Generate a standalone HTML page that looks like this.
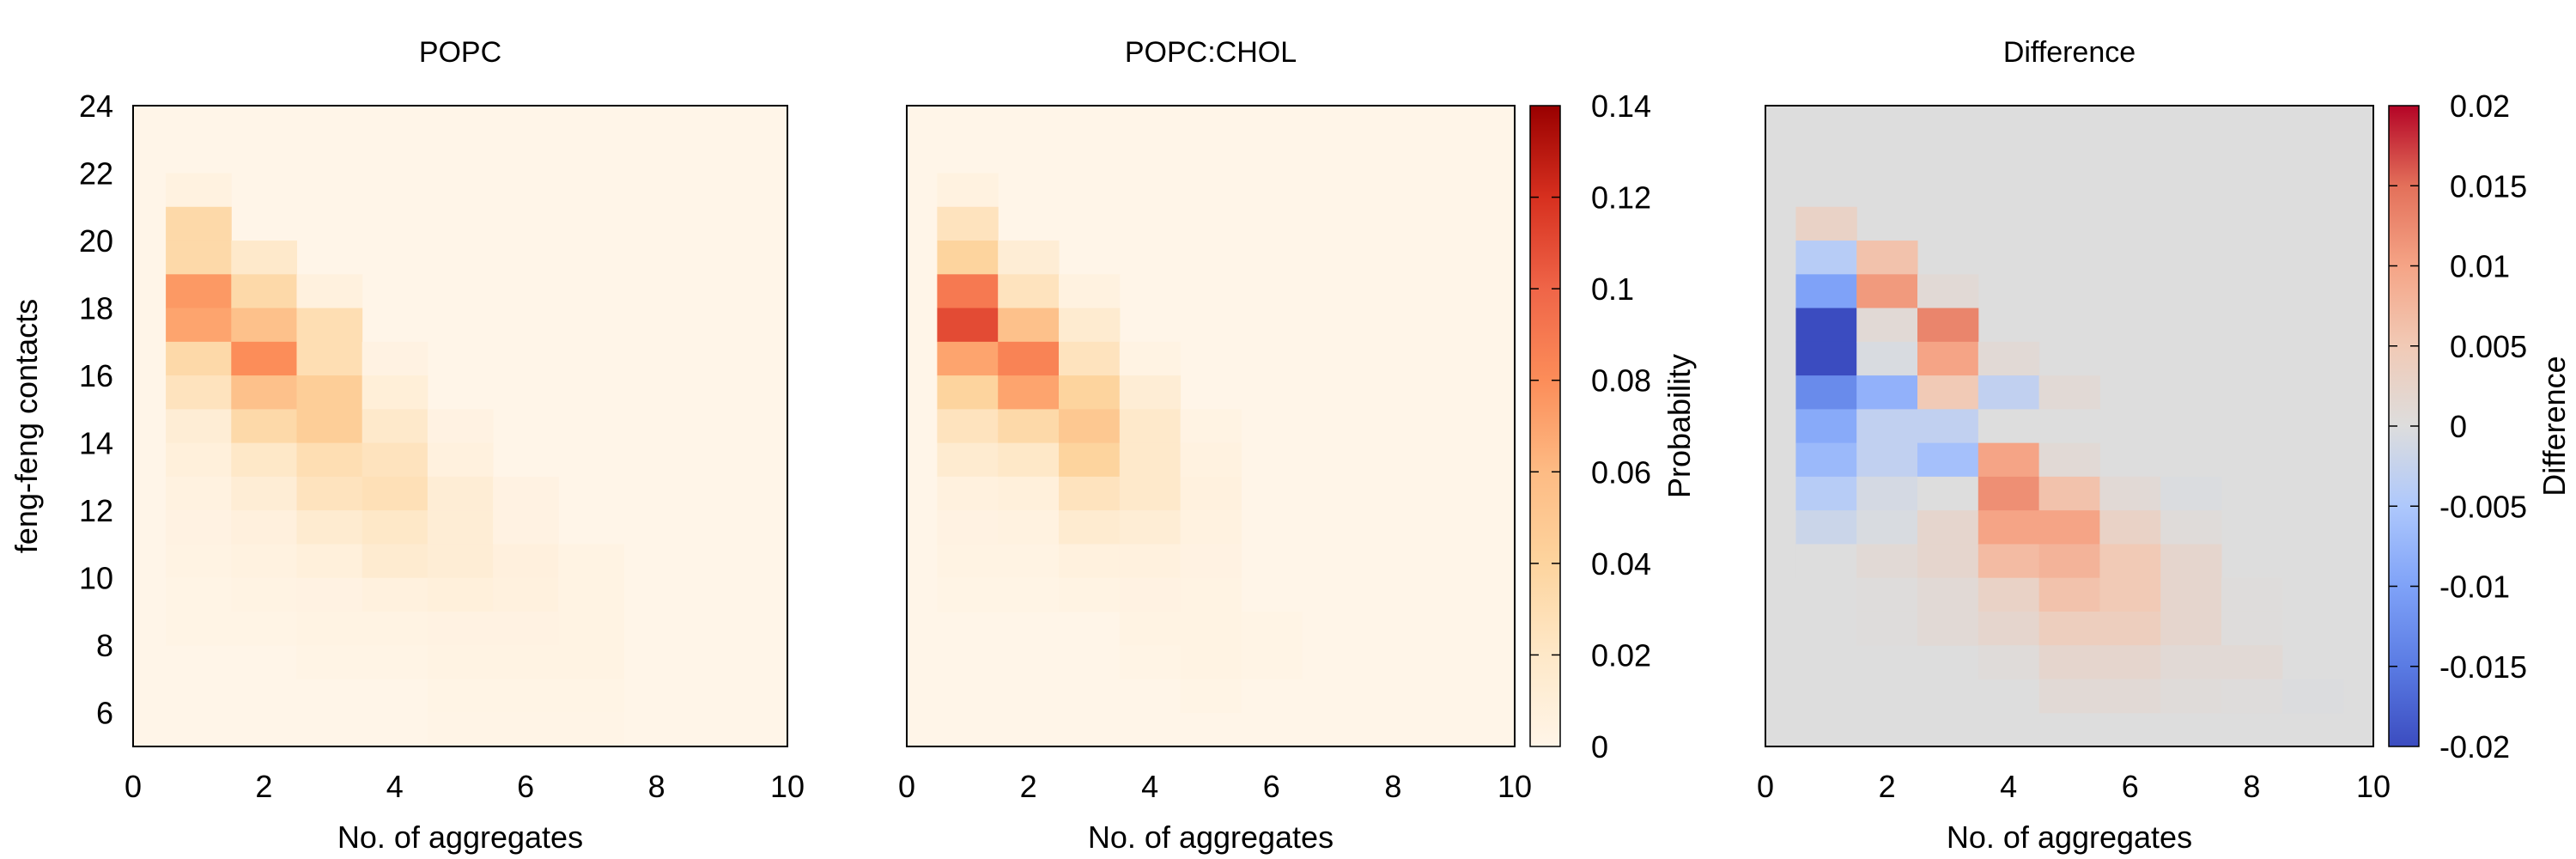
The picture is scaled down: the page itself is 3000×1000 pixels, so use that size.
<!DOCTYPE html>
<html><head><meta charset="utf-8"><style>
html,body{margin:0;padding:0;background:#fff}
svg{display:block;font-family:"Liberation Sans",sans-serif}
</style></head><body>
<svg id="chart" width="3000" height="1000" viewBox="0 0 3000 1000" xmlns="http://www.w3.org/2000/svg">
<defs>
<linearGradient id="gProb" x1="0" y1="1" x2="0" y2="0"></linearGradient>
<linearGradient id="gDiff" x1="0" y1="1" x2="0" y2="0"></linearGradient>
</defs>
</svg>
<script>
// ---- data ----
const xTicks = [0,2,4,6,8,10];
const yTicks = [6,8,10,12,14,16,18,20,22,24];
const probTicks = [0,0.02,0.04,0.06,0.08,0.1,0.12,0.14];
const diffTicks = [-0.02,-0.015,-0.01,-0.005,0,0.005,0.01,0.015,0.02];
// columns: x position, lower edge of top cell, values from top cell downward
const popcX = [1,2,3,4,5,6,7];
const popcTop = [21,19,18,16,14,12,10];
const popcVals = [
 [0.005,0.035,0.035,0.075,0.07,0.035,0.025,0.012,0.008,0.005,0.004,0.003,0.002,0.002],
 [0.018,0.035,0.055,0.08,0.055,0.035,0.02,0.012,0.007,0.005,0.003,0.002],
 [0.006,0.03,0.03,0.045,0.045,0.03,0.025,0.015,0.008,0.004,0.003,0.002],
 [0.004,0.01,0.018,0.025,0.028,0.02,0.015,0.006,0.003,0.002],
 [0.004,0.006,0.012,0.012,0.012,0.008,0.004,0.003,0.002,0.001],
 [0.004,0.004,0.007,0.006,0.004,0.003,0.002,0.001],
 [0.003,0.003,0.003,0.003,0.002,0.001]
];
const cholX = [1,2,3,4,5,6];
const cholTop = [21,19,18,16,14,8];
const cholVals = [
 [0.005,0.025,0.04,0.09,0.11,0.07,0.04,0.025,0.015,0.006,0.004,0.003,0.002],
 [0.012,0.025,0.055,0.085,0.07,0.035,0.02,0.008,0.005,0.003,0.002],
 [0.005,0.015,0.025,0.04,0.05,0.04,0.025,0.015,0.006,0.003],
 [0.003,0.012,0.018,0.018,0.018,0.012,0.006,0.004,0.003,0.002],
 [0.003,0.005,0.006,0.005,0.004,0.003,0.003,0.003,0.002],
 [0.002,0.002]
];
const diffX = [1,2,3,4,5,6,7,8,9];
const diffTop = [20,19,18,16,15,12,12,9,6];
const diffVals = [
 [0.003,-0.004,-0.01,-0.02,-0.02,-0.013,-0.009,-0.007,-0.004,-0.002,0],
 [0.006,0.011,0.001,-0.0005,-0.008,-0.003,-0.003,-0.001,-0.0005,0.001,0.0003,0.0003],
 [0.001,0.013,0.01,0.005,-0.003,-0.006,0,0.002,0.002,0.001,0.001],
 [0.001,-0.003,0,0.01,0.012,0.01,0.007,0.003,0.002,0.0005],
 [0.001,0,0.001,0.006,0.01,0.008,0.006,0.004,0.002,0.001],
 [0.001,0.003,0.005,0.005,0.004,0.002,0.001],
 [-0.0003,0.0005,0.002,0.002,0.002,0.001,0.0005],
 [0.0003,0.0003,0.001,0.0003],
 [-0.0002]
];
// ---- colormaps ----
const probStops = [[0,'#fff5e8'],[0.02,'#fee8c8'],[0.04,'#fdd49e'],[0.06,'#fdbb84'],[0.08,'#fc8d59'],[0.1,'#ef6548'],[0.12,'#d7301f'],[0.14,'#990000']];
const diffStops = [[-0.02,'#3b4cc0'],[-0.015,'#5a7be3'],[-0.01,'#7fa2f8'],[-0.005,'#aec8fc'],[0,'#dddddd'],[0.005,'#f1cab6'],[0.01,'#f5a486'],[0.015,'#e3705a'],[0.02,'#b40426']];
function hex(c){return [parseInt(c.slice(1,3),16),parseInt(c.slice(3,5),16),parseInt(c.slice(5,7),16)];}
function cmap(stops,v){
  if(v<=stops[0][0]) return stops[0][1];
  for(let i=1;i<stops.length;i++){
    if(v<=stops[i][0]){
      const t=(v-stops[i-1][0])/(stops[i][0]-stops[i-1][0]);
      const a=hex(stops[i-1][1]),b=hex(stops[i][1]);
      return 'rgb('+a.map((x,k)=>Math.round(x+(b[k]-x)*t)).join(',')+')';
    }
  }
  return stops[stops.length-1][1];
}
const NS='http://www.w3.org/2000/svg';
const svg=document.getElementById('chart');
function el(tag,attrs,parent,text){
  const e=document.createElementNS(NS,tag);
  for(const k in attrs) e.setAttribute(k,attrs[k]);
  if(text!==undefined) e.textContent=text;
  (parent||svg).appendChild(e);
  return e;
}
[['gProb',probStops,0,0.14],['gDiff',diffStops,-0.02,0.02]].forEach(([id,st,lo,hi])=>{
  const g=document.getElementById(id);
  st.forEach(s=>el('stop',{offset:((s[0]-lo)/(hi-lo)*100)+'%','stop-color':s[1]},g));
});
const TOP=123,BOT=869,YMIN=5,YMAX=24;
function ys(v){return BOT-(v-YMIN)/(YMAX-YMIN)*(BOT-TOP);}
function drawPanel(name,L,R,xs,tops,vals,stops,bg,title,showY){
  const g=el('g',{});
  
  
  const xsc=v=>L+v/10*(R-L);
  const bgr=el('rect',{x:L,y:TOP,width:R-L,height:BOT-TOP,fill:bg},g);
  
  
  xs.forEach((x,i)=>{
    vals[i].forEach((v,j)=>{
      const lo=tops[i]-j;
      const r=el('rect',{x:xsc(x-0.5),y:ys(lo+1),width:xsc(x+0.5)-xsc(x-0.5)+0.5,height:ys(lo)-ys(lo+1)+0.5,fill:cmap(stops,v)},g);
      
      
    });
  });
  el('rect',{x:L,y:TOP,width:R-L,height:BOT-TOP,fill:'none',stroke:'#000','stroke-width':2},g);
  xTicks.forEach(t=>{
    const tx=el('text',{x:xsc(t),y:928,'font-size':36,'text-anchor':'middle'},g,String(t));
    
    
  });
  const xt=el('text',{x:(L+R)/2,y:987,'font-size':36,'text-anchor':'middle'},g,'No. of aggregates');
  
  
  const tt=el('text',{x:(L+R)/2,y:72,'font-size':34,'text-anchor':'middle'},g,title);
  
  
  if(showY){
    yTicks.forEach(t=>{
      const ty=el('text',{x:132,y:ys(t)+13,'font-size':36,'text-anchor':'end'},g,String(t));
      
      
    });
    const yl=el('text',{x:0,y:0,'font-size':36,'text-anchor':'middle',transform:'translate(43,'+((TOP+BOT)/2)+') rotate(-90)'},g,'feng-feng contacts');
    
    
  }
}
function drawBar(name,L,R,grad,ticks,lo,hi,label,labelX,fmt){
  const g=el('g',{});
  
  
  el('rect',{x:L,y:TOP,width:R-L,height:BOT-TOP,fill:'url(#'+grad+')',stroke:'#000','stroke-width':1.5},g);
  ticks.forEach(t=>{
    const y=BOT-(t-lo)/(hi-lo)*(BOT-TOP);
    if(t!==lo&&t!==hi){
      el('line',{x1:L,x2:L+10,y1:y,y2:y,stroke:'#000','stroke-width':1.5},g);
      el('line',{x1:R-10,x2:R,y1:y,y2:y,stroke:'#000','stroke-width':1.5},g);
    }
    const s=fmt(t);
    const tx=el('text',{x:R+(t<0?24:36),y:y+13,'font-size':36},g,s);
    
    
  });
  const lb=el('text',{x:0,y:0,'font-size':36,'text-anchor':'middle',transform:'translate('+labelX+','+((TOP+BOT)/2)+') rotate(-90)'},g,label);
  
  
}
const f=t=>String(+t.toFixed(3));
drawPanel('popc',155,917,popcX,popcTop,popcVals,probStops,'#fff5e8','POPC',true);
drawPanel('popc-chol',1056,1764,cholX,cholTop,cholVals,probStops,'#fff5e8','POPC:CHOL',false);
drawPanel('difference',2056,2764,diffX,diffTop,diffVals,diffStops,'#dddddd','Difference',false);
drawBar('probability-colorbar',1782,1817,'gProb',probTicks,0,0.14,'Probability',1968,f);
drawBar('difference-colorbar',2782,2817,'gDiff',diffTicks,-0.02,0.02,'Difference',2987,f);
</script>
</body></html>
